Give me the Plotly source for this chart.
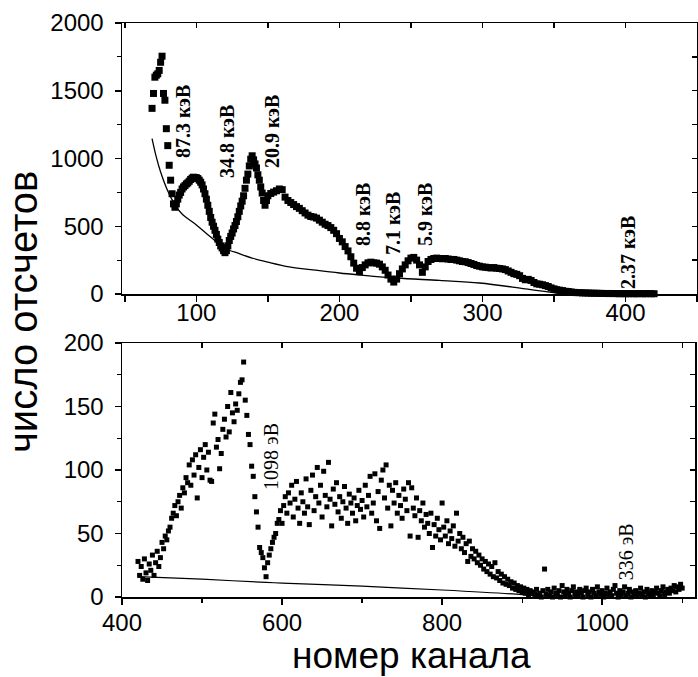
import plotly.graph_objects as go

# ---------------- data ----------------
# Upper spectrum: channels 69..150 (step 1)
top_counts_a = [
    1370, 1480, 1600, 1615, 1625, 1650, 1710, 1755, 1480, 1430,   # 69-78
    1220, 1095, 950, 840, 740, 665, 640, 665, 700, 730,           # 79-88
    750, 775, 790, 800, 812, 820, 832, 845, 855, 862,             # 89-98
    860, 858, 852, 840, 825, 805, 775, 740, 700, 655,             # 99-108
    610, 565, 530, 500, 470, 440, 405, 380, 355, 340,             # 109-118
    320, 305, 320, 355, 395, 425, 450, 480, 505, 535,             # 119-128
    570, 610, 650, 685, 725, 780, 840, 885, 945, 995,             # 129-138
    1020, 990, 960, 930, 880, 840, 790, 745, 690, 655,            # 139-148
    690, 725,                                                     # 149-150
]
top_start_a = 69
# Upper spectrum: channels 152..420 (step 2)
top_counts_b = [
    742, 752, 762, 775, 770, 715, 690, 675, 660, 645,   # 152-170
    632, 615, 598, 582, 572, 568, 560, 545, 530, 515,   # 172-190
    505, 490, 470, 445, 410, 385, 350, 318, 275, 228,   # 192-210
    190, 165, 195, 215, 230, 235, 230, 228, 220, 200,   # 212-230
    175, 140, 110, 88, 110, 150, 185, 215, 245, 265,    # 232-250
    270, 250, 215, 160, 200, 240, 255, 262, 265, 262,   # 252-270
    260, 262, 258, 255, 255, 250, 245, 240, 238, 232,   # 272-290
    225, 218, 210, 205, 200, 198, 195, 192, 195, 190,   # 292-310
    188, 185, 180, 170, 160, 150, 145, 135, 115, 105,   # 312-330
    108, 100, 85, 75, 72, 68, 62, 55, 45, 38,           # 332-350
    32, 28, 25, 20, 18, 15, 12, 10, 10, 8,              # 352-370
    8, 7, 6, 6, 5, 5, 4, 4, 3, 4,                       # 372-390
    3, 3, 2, 3, 2, 2, 3, 2, 2, 3,                       # 392-410
    2, 2, 3, 2, 2,                                      # 412-420
]
top_start_b = 152

# Upper background curve
top_bg_x = [69, 72, 75, 80, 85, 90, 100, 110, 120, 130, 140, 150, 165, 180,
            200, 215, 240, 270, 298, 330, 352, 362]
top_bg_y = [1147, 1010, 900, 760, 660, 590, 510, 420, 338, 298, 262, 235, 200, 180,
            155, 140, 118, 100, 81, 38, 7, 0]

# Lower spectrum: channels 420..1100 (step 2)
bot_counts = [
    28, 17, 24, 14, 30, 19, 13, 26, 21, 33,        # 420-438
    17, 27, 36, 24, 31, 43, 38, 48, 45, 52,        # 440-458
    55, 62, 66, 72, 64, 75, 80, 70, 86, 82,        # 460-478
    94, 90, 104, 88, 108, 96, 112, 78, 102, 116,   # 480-498
    94, 110, 120, 100, 114, 92, 91, 137, 144, 118, # 500-518
    124, 101, 113, 132, 140, 126, 150, 130, 161, 145,  # 520-538
    138, 152, 147, 160, 169, 171, 185, 155, 143, 128,  # 540-558
    120, 103, 95, 79, 67, 55, 39, 35, 31, 23,      # 560-578
    16, 27, 33, 38, 43, 47, 50, 58, 61, 68,        # 580-598
    58, 72, 79, 66, 82, 74, 88, 63, 77, 91,        # 600-618
    70, 58, 82, 75, 66, 93, 71, 57, 84, 96,        # 620-638
    68, 79, 102, 74, 88, 63, 99, 80, 71, 106,      # 640-658
    77, 56, 85, 73, 90, 67, 79, 62, 75, 87,        # 660-678
    70, 58, 81, 74, 66, 78, 60, 72, 84, 69,        # 680-698
    76, 63, 88, 71, 80, 95, 66, 74, 97, 60,        # 700-718
    83, 54, 92, 100, 78, 104, 70, 88, 56, 84,      # 720-738
    74, 90, 66, 80, 72, 62, 85, 77, 68, 90,        # 740-758
    48, 86, 70, 64, 78, 47, 68, 60, 74, 55,        # 760-778
    65, 58, 50, 66, 39, 57, 48, 62, 53, 45,        # 780-798
    74, 55, 48, 60, 42, 52, 46, 56, 40, 66,        # 800-818
    44, 50, 38, 47, 35, 42, 28, 44, 32, 38,        # 820-838
    30, 36, 27, 33, 25, 30, 22, 28, 20, 26,        # 840-858
    18, 24, 16, 27, 15, 20, 13, 18, 11, 16,        # 860-878
    10, 14, 9, 12, 7, 11, 6, 9, 5, 8,              # 880-898
    4, 7, 3, 6, 2, 5, 3, 4, 2, 6,                  # 900-918
    1, 3, 0, 5, 22, 2, 6, 1, 4, 0,                 # 920-938
    7, 3, 2, 5, 0, 9, 4, 1, 6, 3,                  # 940-958
    0, 5, 8, 2, 4, 1, 6, 3, 0, 5,                  # 960-978
    7, 2, 4, 0, 6, 3, 1, 8, 4, 2,                  # 980-998
    5, 0, 3, 7, 2, 4, 1, 6, 9, 3,                  # 1000-1018
    0, 5, 2, 4, 8, 1, 3, 6, 0, 4,                  # 1020-1038
    2, 5, 1, 3, 7, 2, 4, 0, 6, 3,                  # 1040-1058
    1, 5, 2, 4, 7, 3, 1, 5, 8, 2,                  # 1060-1078
    4, 6, 3, 7, 5, 9, 4, 8, 6, 10,                 # 1080-1098
    7,                                             # 1100
]
bot_start = 420

# Lower background line
bot_bg_x = [420, 500, 580, 600, 700, 800, 900, 925]
bot_bg_y = [16, 14, 11.5, 11, 8.5, 5.5, 1.8, 0]

# Peak labels
top_labels = ["87.3 кэВ", "34.8 кэВ", "20.9 кэВ", "8.8 кэВ", "7.1 кэВ", "5.9 кэВ", "2.37 кэВ"]
top_label_x = [90.6, 121.4, 152.9, 216.5, 237.5, 259.8, 401.7]
top_label_y = [1277, 1129, 1196, 583, 517, 590, 310]
bot_labels = ["1098 эВ", "336 эВ"]
bot_label_x = [586, 1030]
bot_label_y = [111, 35.4]

# ---------------- figure ----------------
W, H = 698, 677
top_x = list(range(top_start_a, top_start_a + len(top_counts_a))) + \
        list(range(top_start_b, top_start_b + 2 * len(top_counts_b), 2))
top_y = top_counts_a + top_counts_b
bot_x = list(range(bot_start, bot_start + 2 * len(bot_counts), 2))

fig = go.Figure()
fig.add_trace(go.Scatter(x=top_x, y=top_y, mode="markers", xaxis="x", yaxis="y",
                         marker=dict(symbol="square", size=7, color="black"),
                         cliponaxis=False, hoverinfo="skip"))
fig.add_trace(go.Scatter(x=top_bg_x, y=top_bg_y, mode="lines", xaxis="x", yaxis="y",
                         line=dict(color="black", width=1.3, shape="spline", smoothing=1.0),
                         hoverinfo="skip"))
fig.add_trace(go.Scatter(x=bot_x, y=bot_counts, mode="markers", xaxis="x2", yaxis="y2",
                         marker=dict(symbol="square", size=5, color="black"),
                         cliponaxis=False, hoverinfo="skip"))
fig.add_trace(go.Scatter(x=bot_bg_x, y=bot_bg_y, mode="lines", xaxis="x2", yaxis="y2",
                         line=dict(color="black", width=1.2, shape="spline", smoothing=0.6),
                         hoverinfo="skip"))
# invisible traces to activate the mirror-tick axes
fig.add_trace(go.Scatter(x=[None], y=[None], xaxis="x3", yaxis="y3", showlegend=False, hoverinfo="skip"))
fig.add_trace(go.Scatter(x=[None], y=[None], xaxis="x4", yaxis="y4", showlegend=False, hoverinfo="skip"))

tickfont = dict(family="Liberation Sans, Arial, sans-serif", size=24, color="black")

def main_axis(**kw):
    d = dict(showline=True, linecolor="black", linewidth=1.5, mirror=True,
             ticks="outside", ticklen=6, tickwidth=1.5, tickcolor="black",
             showgrid=False, zeroline=False, tickfont=tickfont, fixedrange=True,
             automargin=False)
    d.update(kw)
    return d

def mirror_axis(**kw):
    d = dict(showline=False, ticks="inside", ticklen=5, tickwidth=1.3, tickcolor="black",
             showticklabels=False, showgrid=False, zeroline=False, fixedrange=True,
             automargin=False)
    d.update(kw)
    return d

xd_top = [122 / W, 697 / W]
xd_bot = [122 / W, 695 / W]
yd_top = [1 - 294 / H, 1 - 23 / H]
yd_bot = [1 - 597 / H, 1 - 343 / H]
bot_range = [400, 1116]

fig.update_layout(
    width=W, height=H,
    margin=dict(l=0, r=0, t=0, b=0, pad=0, autoexpand=False),
    paper_bgcolor="white", plot_bgcolor="white",
    showlegend=False,
    xaxis=main_axis(domain=xd_top, anchor="y", range=[48, 450], tick0=0, dtick=100,
                    ticklabelstandoff=-9,
                    minor=dict(dtick=50, ticks="outside", ticklen=6, tickwidth=1.3, tickcolor="black")),
    yaxis=main_axis(domain=yd_top, anchor="x", range=[0, 2000], tick0=0, dtick=500,
                    ticklabelstandoff=6,
                    minor=dict(dtick=250, ticks="outside", ticklen=4, tickwidth=1.2, tickcolor="black")),
    xaxis2=main_axis(domain=xd_bot, anchor="y2", range=bot_range, tick0=0, dtick=200,
                     ticklabelstandoff=-2,
                     minor=dict(dtick=100, ticks="outside", ticklen=4, tickwidth=1.2, tickcolor="black")),
    yaxis2=main_axis(domain=yd_bot, anchor="x2", range=[0, 200], tick0=0, dtick=50,
                     ticklabelstandoff=6,
                     minor=dict(dtick=25, ticks="outside", ticklen=4, tickwidth=1.2, tickcolor="black")),
    xaxis3=mirror_axis(overlaying="x", anchor="y3", side="top", range=[48, 450], tick0=0, dtick=50),
    yaxis3=mirror_axis(overlaying="y", anchor="x3", side="right", range=[0, 2000], tick0=0, dtick=250),
    xaxis4=mirror_axis(overlaying="x2", anchor="y4", side="top", range=bot_range, tick0=0, dtick=100),
    yaxis4=mirror_axis(overlaying="y2", anchor="x4", side="right", range=[0, 200], tick0=0, dtick=25),
)

for t, x, y in zip(top_labels, top_label_x, top_label_y):
    fig.add_annotation(text=t, x=x, y=y, xref="x", yref="y", showarrow=False, textangle=-90,
                       xanchor="center", yanchor="middle",
                       font=dict(family="Liberation Serif, Times New Roman, serif", size=20,
                                 color="black", weight="bold"))
for t, x, y in zip(bot_labels, bot_label_x, bot_label_y):
    fig.add_annotation(text=t, x=x, y=y, xref="x2", yref="y2", showarrow=False, textangle=-90,
                       xanchor="center", yanchor="middle",
                       font=dict(family="Liberation Serif, Times New Roman, serif", size=20,
                                 color="black"))

fig.add_annotation(text="число отсчетов", x=23 / W, y=1 - 312 / H, xref="paper", yref="paper",
                   showarrow=False, textangle=-90, xanchor="center", yanchor="middle",
                   font=dict(family="Liberation Sans, Arial, sans-serif", size=40, color="black"))
fig.add_annotation(text="номер канала", x=411 / W, y=1 - 655 / H, xref="paper", yref="paper",
                   showarrow=False, xanchor="center", yanchor="middle",
                   font=dict(family="Liberation Sans, Arial, sans-serif", size=37, color="black"))

fig.write_html("out.html", config={"displayModeBar": False, "staticPlot": True},
               post_script="document.body.style.margin='0';document.body.style.overflow='hidden';")
